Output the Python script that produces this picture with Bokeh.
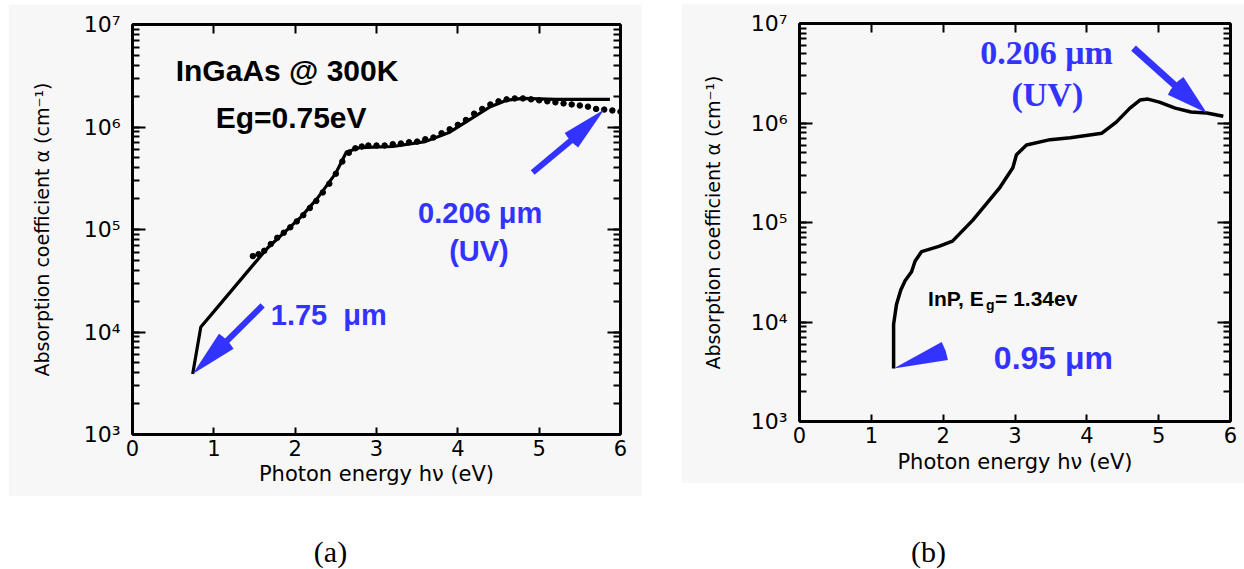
from bokeh.plotting import figure
from bokeh.layouts import row, column
from bokeh.models import (Label, LinearAxis, LogAxis, Range1d,
                          CustomJSTickFormatter, FixedTicker, LogTicker)
from bokeh.embed import file_html
from bokeh.resources import INLINE

# ---------------- data ----------------
# (a) InGaAs @ 300K : smooth curve
ingaas_e = [0.74, 0.84, 1.00, 1.45, 1.66, 2.07, 2.27, 2.50, 2.63, 2.80,
            3.20, 3.60, 3.90, 4.16, 4.40, 4.60, 4.80, 5.20, 5.87]
ingaas_alpha = [3.9e3, 1.12e4, 1.58e4, 4.2e4, 6.6e4, 1.32e5, 2.0e5, 3.55e5, 5.7e5, 6.3e5,
                6.45e5, 7.2e5, 8.9e5, 1.2e6, 1.58e6, 1.82e6, 1.9e6, 1.86e6, 1.86e6]
# (a) InGaAs : measured points
ingaas_pts_e = [1.48, 1.55, 1.62, 1.70, 1.78, 1.86, 1.94, 2.02, 2.10, 2.18,
                2.26, 2.34, 2.42, 2.50, 2.58, 2.66, 2.74, 2.82, 2.90, 3.00,
                3.10, 3.20, 3.30, 3.40, 3.50, 3.60, 3.70, 3.80, 3.90, 4.00,
                4.10, 4.20, 4.30, 4.40, 4.50, 4.60, 4.70, 4.80, 4.90, 5.00,
                5.10, 5.20, 5.30, 5.40, 5.50, 5.60, 5.70, 5.80, 5.90, 6.00]
ingaas_pts_alpha = [5.5e4, 5.75e4, 6.2e4, 7.2e4, 8.3e4, 9.3e4, 1.05e5, 1.2e5, 1.38e5, 1.62e5,
                    1.9e5, 2.3e5, 2.8e5, 3.5e5, 4.6e5, 5.6e5, 6.2e5, 6.45e5, 6.6e5, 6.6e5,
                    6.6e5, 6.8e5, 6.9e5, 7.1e5, 7.2e5, 7.6e5, 7.9e5, 8.7e5, 9.5e5, 1.05e6,
                    1.17e6, 1.35e6, 1.5e6, 1.66e6, 1.78e6, 1.86e6, 1.9e6, 1.9e6, 1.86e6, 1.82e6,
                    1.78e6, 1.74e6, 1.7e6, 1.66e6, 1.62e6, 1.58e6, 1.5e6, 1.48e6, 1.45e6, 1.41e6]
# (b) InP
inp_e = [1.31, 1.31, 1.35, 1.41, 1.47, 1.56, 1.61, 1.70, 1.94, 2.13,
         2.41, 2.78, 2.97, 3.02, 3.16, 3.49, 3.77, 4.21, 4.41, 4.60,
         4.74, 4.85, 5.01, 5.23, 5.45, 5.67, 5.90]
inp_alpha = [3.4e3, 9.5e3, 1.5e4, 2.1e4, 2.6e4, 3.2e4, 4.1e4, 5.1e4, 5.75e4, 6.5e4,
             1.05e5, 2.2e5, 3.55e5, 4.8e5, 6.0e5, 6.8e5, 7.1e5, 7.9e5, 1.02e6, 1.41e6,
             1.7e6, 1.74e6, 1.62e6, 1.41e6, 1.29e6, 1.26e6, 1.17e6]

x_ticks = [0, 1, 2, 3, 4, 5, 6]
y_ticks = [1e3, 1e4, 1e5, 1e6, 1e7]
y_tick_labels = ["10\u00b3", "10\u2074", "10\u2075", "10\u2076", "10\u2077"]

# ---------------- styles ----------------
BLUE = "#3333ff"
GRAY = "#f7f7f7"
TICK_FONT = "DejaVu Sans"
SANS = "Liberation Sans"
SERIF = "Liberation Serif"

ylab_fmt_code = """
let best = 0, bd = 1e99;
for (let i = 0; i < tvals.length; i++) {
  const d = Math.abs(Math.log10(tvals[i]) - Math.log10(tick));
  if (d < bd) { bd = d; best = i; }
}
return bd < 0.01 ? tlabels[best] : "";
"""


def ylog_formatter():
    return CustomJSTickFormatter(args=dict(tvals=y_ticks, tlabels=y_tick_labels),
                                 code=ylab_fmt_code)


def make_panel(width, height, margin, borders, ylab_standoff, xlab_standoff, ytick_standoff):
    left, right, top, bottom = borders
    p = figure(width=width, height=height, x_axis_type=None, y_axis_type="log",
               x_range=Range1d(0, 6), y_range=Range1d(1e3, 1e7), title=None,
               output_backend="svg", toolbar_location=None,
               min_border_left=left, min_border_right=right,
               min_border_top=top, min_border_bottom=bottom,
               background_fill_color=GRAY, border_fill_color=GRAY,
               outline_line_color="black", outline_line_width=2)
    p.margin = margin
    p.grid.visible = False

    # left log axis
    ya = p.yaxis[0]
    ya.ticker = LogTicker(num_minor_ticks=10)
    ya.formatter = ylog_formatter()
    ya.axis_label = "Absorption coefficient \u03b1 (cm\u207b\u00b9)"
    ya.axis_label_text_font = TICK_FONT
    ya.axis_label_text_font_style = "normal"
    ya.axis_label_text_font_size = "19px"
    ya.axis_label_text_color = "black"
    ya.axis_label_standoff = ylab_standoff
    ya.major_label_text_font = TICK_FONT
    ya.major_label_text_font_size = "22px"
    ya.major_label_text_color = "black"
    ya.major_label_standoff = ytick_standoff
    ya.major_tick_in = 13
    ya.major_tick_out = 0
    ya.minor_tick_in = 7
    ya.minor_tick_out = 0
    ya.axis_line_width = 3
    ya.major_tick_line_width = 2
    ya.minor_tick_line_width = 2

    # bottom linear axis
    xa = LinearAxis(ticker=FixedTicker(ticks=x_ticks, minor_ticks=[]))
    xa.axis_label = "Photon energy h\u03bd (eV)"
    xa.axis_label_text_font = TICK_FONT
    xa.axis_label_text_font_style = "normal"
    xa.axis_label_text_font_size = "21px"
    xa.axis_label_text_color = "black"
    xa.axis_label_standoff = xlab_standoff
    xa.major_label_text_font = TICK_FONT
    xa.major_label_text_font_size = "21px"
    xa.major_label_text_color = "black"
    xa.major_label_standoff = 5
    xa.major_tick_in = 7
    xa.major_tick_out = 0
    xa.axis_line_width = 3
    xa.major_tick_line_width = 2
    p.add_layout(xa, "below")

    # mirrored ticks on top and right (labels not painted)
    ta = LinearAxis(ticker=FixedTicker(ticks=x_ticks, minor_ticks=[]))
    ra = LogAxis(ticker=LogTicker(num_minor_ticks=10), formatter=ylog_formatter())
    for ax in (ta, ra):
        ax.major_label_text_font_size = "1px"
        ax.major_label_text_color = None
        ax.major_label_standoff = 0
        ax.axis_label = None
        ax.axis_label_standoff = 0
        ax.major_tick_out = 0
        ax.minor_tick_out = 0
        ax.axis_line_width = 3
        ax.major_tick_line_width = 2
        ax.minor_tick_line_width = 2
    ta.major_tick_in = 9
    ra.major_tick_in = 13
    ra.minor_tick_in = 7
    p.add_layout(ta, "above")
    p.add_layout(ra, "right")
    return p


def arrow(p, tail, neck, tip, radius, a0, a1, width):
    # shaft from the tail to the neck of the head, then a thin wedge-shaped head
    p.segment(x0=[tail[0]], y0=[tail[1]], x1=[neck[0]], y1=[neck[1]],
              line_color=BLUE, line_width=width)
    p.wedge(x=[tip[0]], y=[tip[1]], radius=radius, radius_units="screen",
            start_angle=a0, end_angle=a1,
            start_angle_units="deg", end_angle_units="deg",
            fill_color=BLUE, line_color=None)


def label(p, x, y, text, font, size, color, align="center", style="bold", dx=0, dy=0):
    p.add_layout(Label(x=x, y=y, x_offset=dx, y_offset=dy, text=text, text_font=font,
                       text_font_style=style, text_font_size=size, text_color=color,
                       text_align=align, text_baseline="middle"))


# ---------------- (a) InGaAs ----------------
p1 = make_panel(634, 492, (4, 0, 0, 8), (124, 22, 20, 55),
                ylab_standoff=28, xlab_standoff=3, ytick_standoff=12)
p1.line(ingaas_e, ingaas_alpha, line_color="black", line_width=3.2)
p1.scatter(ingaas_pts_e, ingaas_pts_alpha, size=5.5, fill_color="black",
           line_color="black")

label(p1, 1.90, 3.57e6, "InGaAs @ 300K", SANS, "30px", "black")
label(p1, 1.95, 1.24e6, "Eg=0.75eV", SANS, "30px", "black")
label(p1, 1.70, 1.47e4, "1.75 \u00a0\u03bcm", SANS, "29px", BLUE, align="left")
label(p1, 4.275, 1.45e5, "0.206 \u03bcm", SANS, "29px", BLUE)
label(p1, 4.26, 6.2e4, "(UV)", SANS, "29px", BLUE)

# arrow to the band-edge (1.75 um)
arrow(p1, (1.60, 1.82e4), (1.09, 7.2e3), (ingaas_e[0], ingaas_alpha[0]),
      48, 31.6, 56.8, 6)
# arrow to the UV end (0.206 um)
k = ingaas_pts_e.index(5.80)
arrow(p1, (4.92, 3.6e5), (5.46, 8.2e5), (ingaas_pts_e[k], ingaas_pts_alpha[k]),
      46, 210.8, 235.4, 6)

# ---------------- (b) InP ----------------
p2 = make_panel(563, 480, (3, 0, 0, 39), (118, 14, 19, 62),
                ylab_standoff=24, xlab_standoff=4, ytick_standoff=12)
p2.line(inp_e, inp_alpha, line_color="black", line_width=3.5)

label(p2, 3.44, 5.06e6, "0.206 \u03bcm", SERIF, "34px", BLUE)
label(p2, 3.45, 1.94e6, "(UV)", SERIF, "34px", BLUE)
label(p2, 3.535, 4.33e3, "0.95 \u03bcm", SANS, "32px", BLUE)
label(p2, 1.79, 1.73e4, "InP, E", SANS, "21px", "black", align="left")
label(p2, 1.79, 1.73e4, "g", SANS, "14px", "black", align="left", dx=58, dy=-7)
label(p2, 1.79, 1.73e4, "= 1.34ev", SANS, "21px", "black", align="left", dx=67)

j = inp_e.index(5.67)
arrow(p2, (4.65, 5.65e6), (5.29, 2.17e6), (inp_e[j], inp_alpha[j]),
      43, 122.9, 154.9, 7)
# band-edge wedge (0.95 um)
p2.wedge(x=[inp_e[0]], y=[inp_alpha[0]], radius=55, radius_units="screen",
         start_angle=9, end_angle=29, start_angle_units="deg", end_angle_units="deg",
         fill_color=BLUE, line_color=None)

# ---------------- captions ----------------
p3 = figure(width=1244, height=73, x_axis_type=None, y_axis_type=None, title=None,
            x_range=Range1d(0, 1244), y_range=Range1d(0, 73),
            output_backend="svg", toolbar_location=None, min_border=0,
            outline_line_color=None, background_fill_color="white",
            border_fill_color="white")
p3.grid.visible = False
label(p3, 330, 18, "(a)", SERIF, "30px", "black", style="normal")
label(p3, 928, 18, "(b)", SERIF, "30px", "black", style="normal")

layout = column(row(p1, p2), p3)
open("out.html", "w").write(file_html(layout, INLINE))
